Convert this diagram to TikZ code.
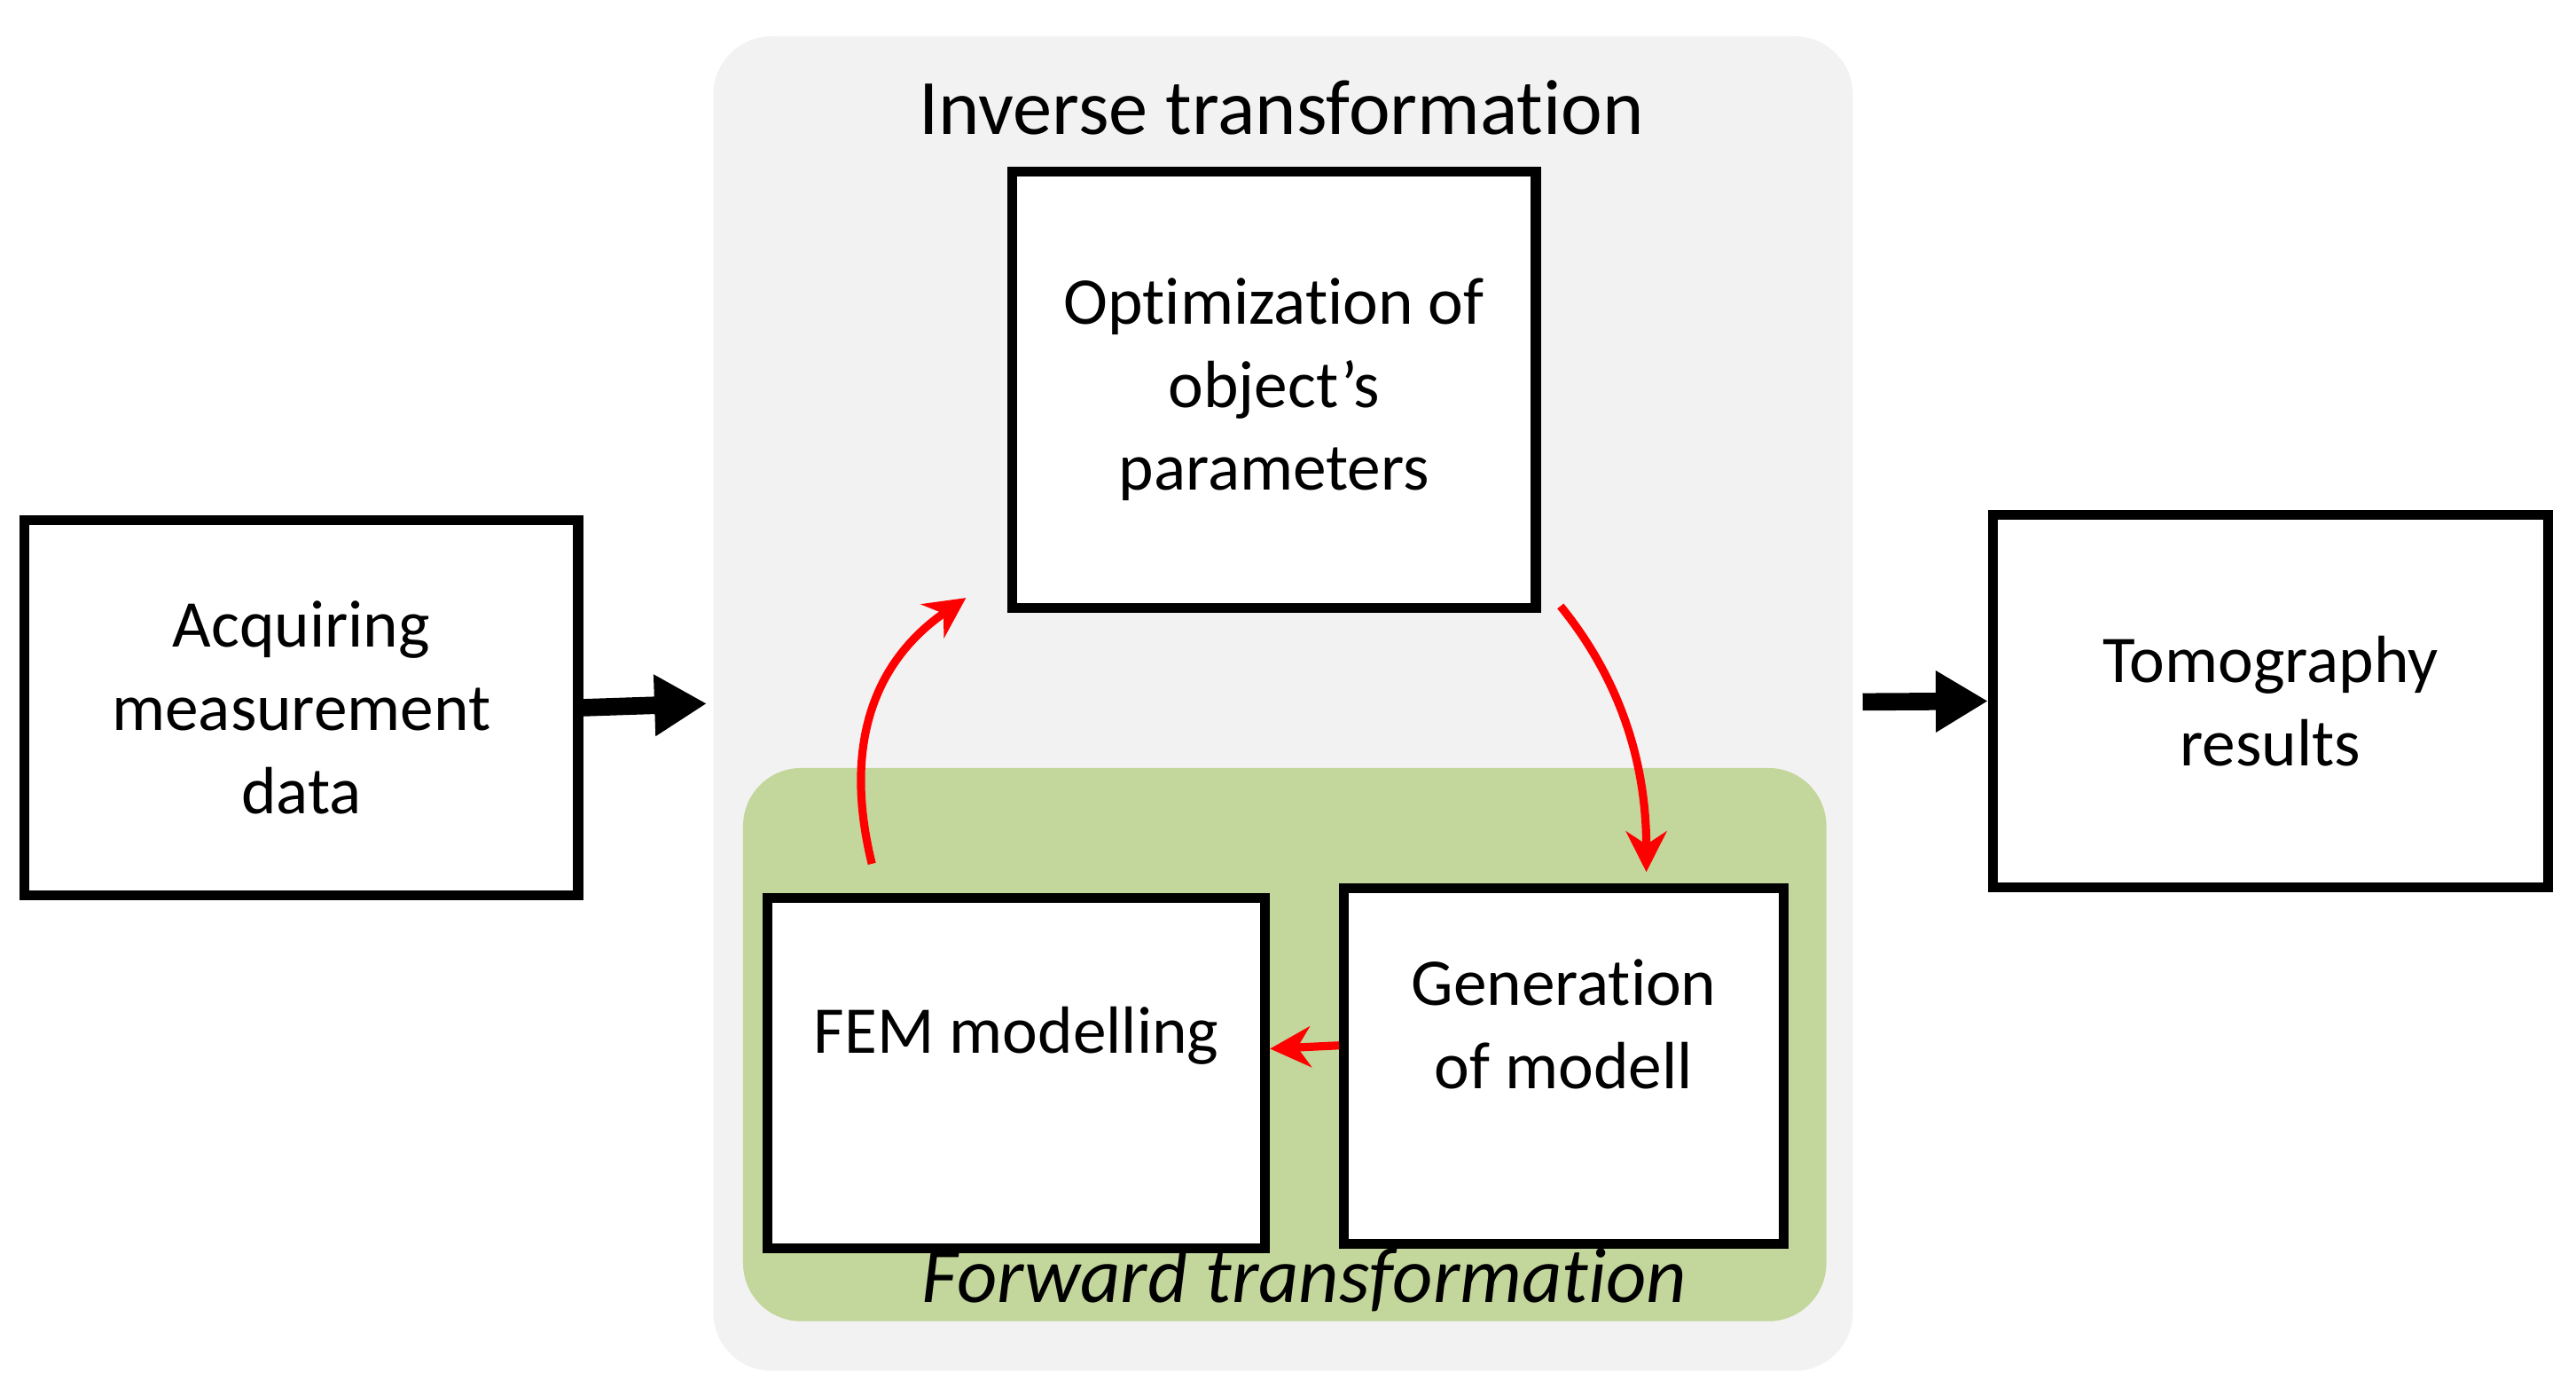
\documentclass[tikz,border=0pt]{standalone}
\usepackage{fontspec}
\setmainfont{Carlito}[Ligatures=NoCommon]
\usetikzlibrary{arrows.meta}
\definecolor{panelgray}{HTML}{F2F2F2}
\definecolor{panelgreen}{HTML}{C3D69B}
\tikzset{
  stage/.style={draw=black, line width=1.7pt, fill=white, align=center,
    font=\fontsize{11.5}{14.3}\selectfont},
  flow/.style={-{Triangle[length=9pt,width=10pt]}, line width=3pt},
  loop/.style={-{Stealth[length=7pt,width=7pt]}, red, line width=1.4pt},
}
\begin{document}
\begin{tikzpicture}[x=0.01cm, y=-0.01cm]
\useasboundingbox (0,0) rectangle (1560,840);
% panels
\fill [panelgray, rounded corners=10pt] (432,22) rectangle (1122,830);
\fill [panelgreen, rounded corners=10pt] (450,465) rectangle (1106,800);
\node (inv) at (776,65) {\fontsize{13.5}{16}\selectfont Inverse transformation};
\node (fwd) at (790,775) {\fontsize{13.5}{16}\selectfont\itshape Forward transformation};
% boxes
\node [stage, minimum width=3.17cm, minimum height=2.64cm] (opt) at (771.5,236)
  {Optimization of\\object’s\\parameters};
\node [stage, minimum width=3.35cm, minimum height=2.27cm] (acq) at (182.5,428.5)
  {Acquiring\\measurement\\data};
\node [stage, minimum width=3.36cm, minimum height=2.25cm] (tom) at (1375,424.5)
  {Tomography\\results};
\node [stage, minimum width=3.01cm, minimum height=2.12cm] (fem) at (615.5,650) {};
\node [font=\fontsize{11.5}{14.3}\selectfont] (femt) at (615.5,627) {FEM modelling};
\node [stage, minimum width=2.66cm, minimum height=2.15cm] (gen) at (947,645.5) {};
\node [font=\fontsize{11.5}{14.3}\selectfont, align=center] (gent) at (947,620)
  {Generation\\of modell};
% connectors
\coordinate (inL) at (428,426);
\coordinate (inR) at (1128,425);
\draw [flow] (acq.east) -- (inL);
\draw [flow] (inR) -- (tom.west);
\coordinate (femUp) at (528,523);
\coordinate (optIn) at (585,362);
\coordinate (optOut) at (945,367);
\coordinate (genIn) at (997,528);
\draw [loop] (femUp) .. controls (510,450) and (530,400) .. (optIn);
\draw [loop] (optOut) .. controls (980,410) and (997,460) .. (genIn);
\draw [loop] (gen.west |- 0,633) -- (fem.east |- 0,635);
\end{tikzpicture}
\end{document}
